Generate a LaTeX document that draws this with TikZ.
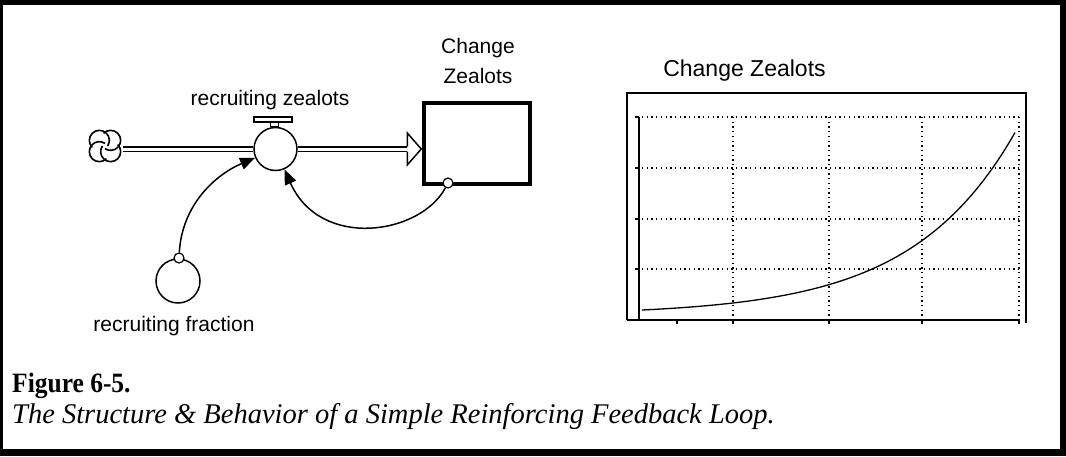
\documentclass[tikz,border=0pt]{standalone}
\usepackage{fontspec}
\setmainfont{Liberation Serif}
\setsansfont{Liberation Sans}
\usetikzlibrary{arrows.meta, calc}
\tikzstyle{stock} = [rectangle, draw=black, line width=3.5pt, minimum width=106pt, minimum height=81pt, inner sep=0pt]
\tikzstyle{valve} = [circle, draw=black, line width=1.5pt, minimum size=43pt, inner sep=0pt, fill=white]
\tikzstyle{aux} = [circle, draw=black, line width=1.5pt, minimum size=44pt, inner sep=0pt]
\tikzstyle{tail} = [circle, draw=black, line width=1.2pt, minimum size=10pt, inner sep=0pt, fill=white]
\tikzstyle{pipe} = [double=white, double distance=3pt, line width=1.5pt]
\tikzstyle{link} = [line width=1.5pt, -{Triangle[length=15pt, width=12pt]}]
\tikzstyle{varname} = [font=\sffamily\fontsize{21}{30}\selectfont, inner sep=0pt, anchor=base]
\tikzstyle{gridline} = [line width=1.3pt, dash pattern=on 1.3pt off 3.4pt]
\tikzstyle{growth} = [line width=1.3pt]

\begin{document}
\begin{tikzpicture}[x=1pt, y=-1pt]
	% frame round the figure
	\fill[black] (0,0) rectangle (1066,456);
	\fill[white] (3,5) rectangle (1060,449);

	\node (stock) [stock] at (477,143.5) {};
	\node (stocklabel) [varname, align=center] at (478,83) {Change\\Zealots};

	\node (valve) [valve] at (275.5,149) {};
	\node (flowlabel) [varname] at (270,105) {recruiting zealots};
	\draw[line width=1.3pt, fill=white] (valve.north) ++(-5,0) rectangle ++(8,-7.5);
	\draw[line width=1.5pt, fill=white] (254,117) rectangle (292,122);

	\node (cloud) [circle, minimum size=36pt, inner sep=0pt] at (105,146) {};
	\foreach \a in {45,135,225,315}
		\draw[line width=1.6pt] ($(cloud)+(\a:8)+(\a-90:10)$) arc[start angle=\a-90, end angle=\a+170, radius=10];

	\draw[pipe] (cloud.east |- valve.west) -- (valve.west);
	\draw[pipe] (valve.east) -- ($(valve.east -| stock.west)+(-15,0)$);
	\draw[line width=1.5pt, line join=miter] ($(valve.east -| stock.west)+(-15,-2.5)$) -- ++(0,-13.5) -- ($(valve.east -| stock.west)+(-1,0)$) -- ++(-14,16) -- ++(0,-13.5);

	\node (fraction) [aux] at (178,281) {};
	\node (fraclabel) [varname] at (174,331) {recruiting fraction};

	\node (fractail) [tail] at (179,258) {};
	\node (stocktail) [tail] at (448,183) {};
	\draw[link] (fractail) .. controls (182,205) and (215,175) .. (valve);
	\draw[link] (stocktail) .. controls (420,235) and (320,250) .. (valve);

	% behaviour over time
	\node (plottitle) [varname, font=\sffamily\fontsize{23}{30}\selectfont] at (744.5,76) {Change Zealots};
	\draw[line width=1.5pt] (627,320) -- (627,93) -- (1026,93) -- (1026,323);
	\foreach \y in {117,168,219,269} {
		\draw[gridline] (642,\y) -- (1019,\y);
		\draw[line width=1.2pt] (635,\y) -- (639,\y);
	}
	\foreach \x in {733,829,922,1019}
		\draw[gridline] (\x,117) -- (\x,320);
	\foreach \x in {677,733,829,922,1019}
		\draw[line width=1.2pt] (\x,320) -- (\x,324);
	\draw[line width=1.5pt] (639,117) -- (639,320);
	\draw[line width=1.5pt] (627,320) -- (1019,320);
	\draw[growth] plot[domain=642:1015, samples=80] (\x, {315-5*exp(0.00965*(\x-642))});

	\node (fignum) [anchor=base west, inner sep=0pt, font=\bfseries\fontsize{28}{30}\selectfont] at (12,392) {\scalebox{0.91}[1]{Figure 6-5.}};
	\node (figtext) [anchor=base west, inner sep=0pt, font=\itshape\fontsize{28.5}{30}\selectfont] at (12,423) {The Structure \& Behavior of a Simple Reinforcing Feedback Loop.};
\end{tikzpicture}
\end{document}
